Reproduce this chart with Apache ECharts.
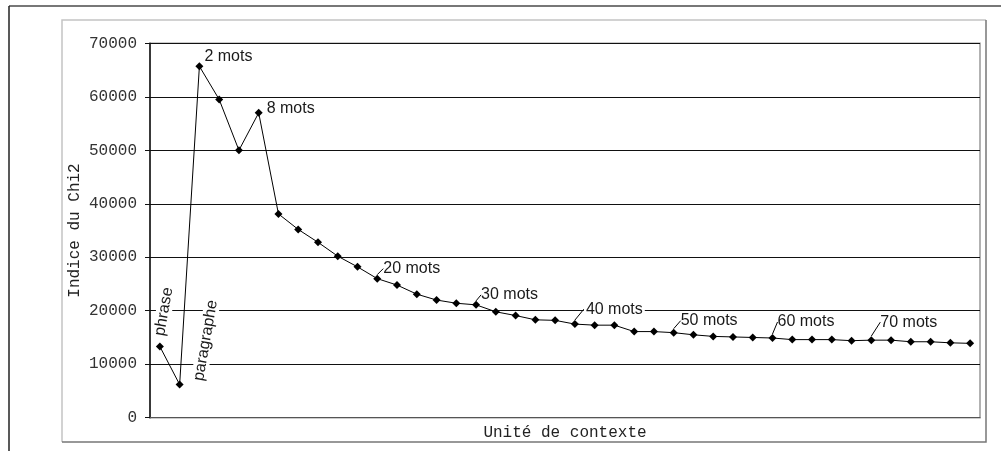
<!DOCTYPE html>
<html><head><meta charset="utf-8">
<script src="https://cdn.jsdelivr.net/npm/echarts@6/dist/echarts.min.js"></script>
<style>html,body{margin:0;padding:0;background:#fff}#c{width:1001px;height:451px}</style>
</head><body><div id="c"></div>
<script>
// ---- data ----
const categories = ['phrase','paragraphe','2 mots','4 mots','6 mots','8 mots','10 mots','12 mots','14 mots','16 mots',
  '18 mots','20 mots','22 mots','24 mots','26 mots','28 mots','30 mots','32 mots','34 mots','36 mots',
  '38 mots','40 mots','42 mots','44 mots','46 mots','48 mots','50 mots','52 mots','54 mots','56 mots',
  '58 mots','60 mots','62 mots','64 mots','66 mots','68 mots','70 mots','72 mots','74 mots','76 mots',
  '78 mots','80 mots'];
const chiValues = [13300, 6200, 65700, 59500, 50000, 57000, 38100, 35200, 32800, 30200,
  28200, 26000, 24800, 23100, 22000, 21400, 21100, 19800, 19100, 18300,
  18200, 17500, 17300, 17300, 16100, 16100, 15900, 15500, 15200, 15100,
  15000, 14900, 14600, 14600, 14600, 14400, 14500, 14500, 14200, 14200,
  14000, 13900];
const annotated = ['phrase','paragraphe','2 mots','8 mots','20 mots','30 mots','40 mots','50 mots','60 mots','70 mots'];
const leaderLabels = ['20 mots','30 mots','40 mots','50 mots','60 mots','70 mots'];
const boxedLabels = ['phrase','paragraphe','40 mots'];
const rotatedLabels = {'phrase': 80, 'paragraphe': 80};
// label shifts in screen space (style): [dx, dy]
const labelShift = {
  'phrase':[4,-35], 'paragraphe':[26,-44],
  '2 mots':[1,-10], '8 mots':[4,-4], '20 mots':[2,-10], '30 mots':[1,-10],
  '40 mots':[5,-15], '50 mots':[3,-12], '60 mots':[1,-16], '70 mots':[5,-18]
};

const seriesData = chiValues.map((v, i) => {
  const name = categories[i];
  if (annotated.indexOf(name) < 0) return v;
  const rot = rotatedLabels[name];
  const item = {
    value: v,
    label: {
      show: true,
      formatter: name,
      position: rot ? 'inside' : 'right',
      distance: 0,
      rotate: rot || 0,
      backgroundColor: boxedLabels.indexOf(name) >= 0 ? '#fff' : 'transparent',
      padding: boxedLabels.indexOf(name) >= 0 ? [0, 2] : 0
    }
  };
  if (leaderLabels.indexOf(name) >= 0) item.labelLine = {show: true, lineStyle: {color: '#000', width: 1}};
  return item;
});

const chart = echarts.init(document.getElementById('c'), null, {renderer: 'canvas'});
chart.setOption({
  animation: false,
  backgroundColor: '#fff',
  grid: {left: 150, right: 21, top: 43.3, bottom: 33.3, show: true, borderColor: '#999', borderWidth: 1.5, backgroundColor: '#fff'},
  graphic: [
    {type: 'line', shape: {x1: 9, y1: 6, x2: 1001, y2: 6}, style: {stroke: '#777', lineWidth: 2}, z: 100},
    {type: 'line', shape: {x1: 9, y1: 6, x2: 9, y2: 451}, style: {stroke: '#222', lineWidth: 1.5}, z: 100},
    {type: 'polyline', shape: {points: [[62, 442], [62, 20], [986, 20]]}, style: {stroke: '#c4c4c4', lineWidth: 1.5, fill: null}, z: -1},
    {type: 'polyline', shape: {points: [[986, 20], [986, 442], [62, 442]]}, style: {stroke: '#777', lineWidth: 1.5, fill: null}, z: -1}
  ],
  xAxis: {
    type: 'category',
    data: categories,
    boundaryGap: true,
    name: 'Unité de contexte',
    nameLocation: 'middle',
    nameGap: 7,
    nameMoveOverlap: false,
    nameTextStyle: {fontFamily: 'Liberation Mono, Courier New, monospace', fontSize: 16, color: '#222'},
    axisLine: {lineStyle: {color: '#555', width: 1}},
    axisTick: {show: false},
    axisLabel: {show: false},
    splitLine: {show: false}
  },
  yAxis: {
    type: 'value',
    min: 0, max: 70000, interval: 10000,
    name: 'Indice du Chi2',
    nameLocation: 'middle',
    nameGap: 67,
    nameMoveOverlap: false,
    nameTextStyle: {fontFamily: 'Liberation Mono, Courier New, monospace', fontSize: 16, color: '#222'},
    axisLine: {show: true, lineStyle: {color: '#111', width: 1.5}},
    axisTick: {show: true, length: 5, lineStyle: {color: '#111'}},
    axisLabel: {margin: 13, formatter: (v) => String(v), fontFamily: 'Liberation Mono, Courier New, monospace', fontSize: 16, color: '#333'},
    splitLine: {show: true, lineStyle: {color: '#111', width: 1}}
  },
  series: [{
    type: 'line',
    data: seriesData,
    symbol: 'diamond',
    symbolSize: 8,
    showAllSymbol: true,
    itemStyle: {color: '#000'},
    lineStyle: {color: '#000', width: 1},
    label: {fontFamily: 'Liberation Sans, Arial, sans-serif', fontSize: 16, color: '#1a1a1a'},
    labelLayout: function (p) {
      const name = categories[p.dataIndex];
      const s = labelShift[name];
      if (!s) return {};
      const rot = rotatedLabels[name];
      if (!rot) return {dx: s[0], dy: s[1]};
      // shifts of rotated labels are applied in the label's rotated frame
      const t = rot * Math.PI / 180, c = Math.cos(t), sn = Math.sin(t);
      return {dx: s[0] * c - s[1] * sn, dy: s[0] * sn + s[1] * c};
    }
  }]
});
</script></body></html>
